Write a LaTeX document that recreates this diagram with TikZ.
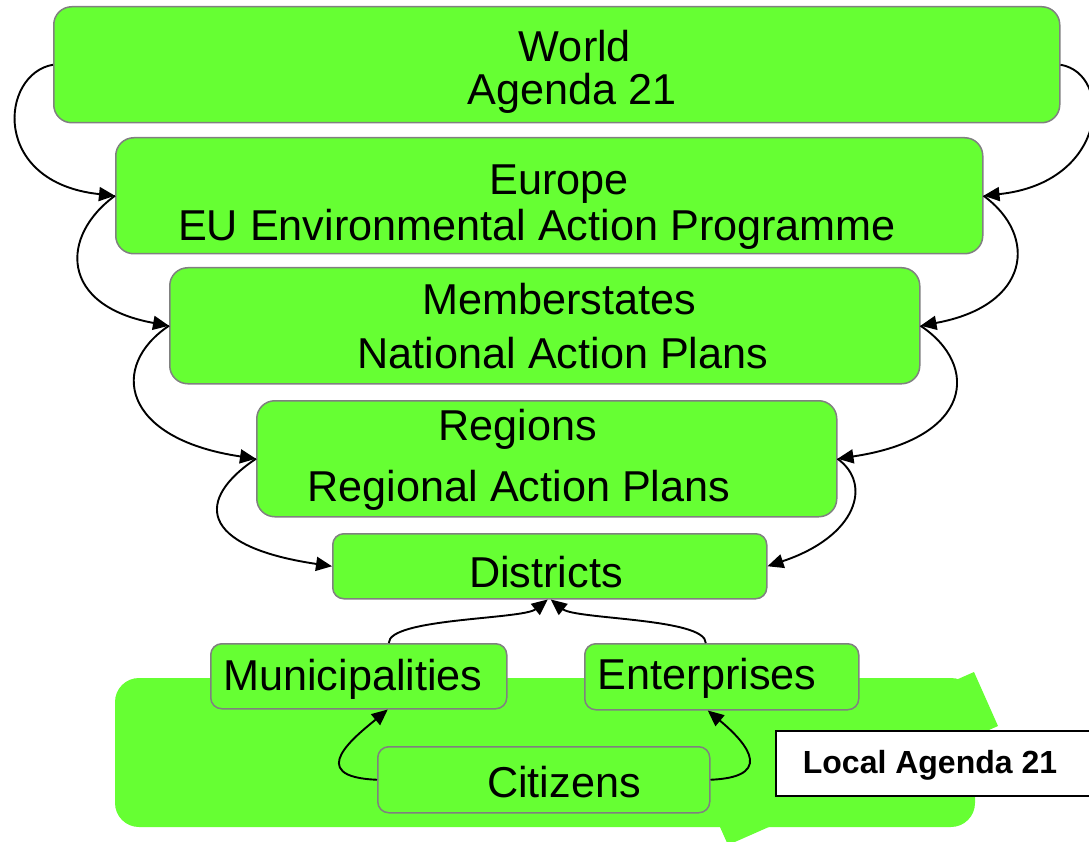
\documentclass[tikz,border=0pt]{standalone}
\usepackage{fontspec}
\setmainfont{Liberation Sans}
\usetikzlibrary{arrows.meta}
\definecolor{leaf}{RGB}{102,255,51}
\definecolor{rim}{RGB}{128,128,128}
\tikzset{
  box/.style={draw=rim, line width=1.5pt, fill=leaf, rounded corners=18pt,
    anchor=north west, inner sep=0pt},
  smallbox/.style={box, rounded corners=11pt},
  lbl/.style={anchor=base, inner sep=0pt, font=\fontsize{43.2}{48}\selectfont},
  conn/.style={line width=1.9pt, -{Triangle[length=16pt,width=14pt]}},
  tagbox/.style={draw=black, line width=2pt, fill=white, anchor=north west, inner sep=0pt},
}
\begin{document}
\begin{tikzpicture}[x=1pt, y=-1pt]
\useasboundingbox (0,0) rectangle (1089,842);

% green field behind the local level
\fill[leaf, rounded corners=24pt] (115,678) rectangle (975,827);
\fill[leaf] (704,791) -- (974,672) -- (998,726) -- (728,845) -- cycle;

% levels
\node[box, minimum width=1006pt, minimum height=116pt] (world) at (53,6) {};
\node[box, minimum width=867pt, minimum height=116pt] (europe) at (115,137) {};
\node[box, minimum width=750pt, minimum height=116pt] (members) at (169,267) {};
\node[box, minimum width=580pt, minimum height=116pt] (regions) at (256,400) {};
\node[smallbox, minimum width=434pt, minimum height=65pt] (districts) at (332,533) {};
\node[smallbox, minimum width=296pt, minimum height=65pt] (munis) at (210,643) {};
\node[smallbox, minimum width=274pt, minimum height=66pt] (ent) at (584,643) {};
\node[smallbox, minimum width=332pt, minimum height=66pt] (citizens) at (377,746) {};
\node[tagbox, minimum width=330pt, minimum height=65pt] (lag) at (775,730) {};

% labels
\node[lbl] (t1) at (575,62) {World};
\node[lbl] (t2) at (572,105) {Agenda 21};
\node[lbl] (t3) at (559,195) {Europe};
\node[lbl] (t4) at (537,241) {EU Environmental Action Programme};
\node[lbl] (t5) at (559,314) {Memberstates};
\node[lbl] (t6) at (563,368) {National Action Plans};
\node[lbl] (t7) at (518,440) {Regions};
\node[lbl] (t8) at (519,501) {Regional Action Plans};
\node[lbl] (t9) at (546,587) {Districts};
\node[lbl] (t10) at (353,690) {Municipalities};
\node[lbl] (t11) at (707,689) {Enterprises};
\node[lbl] (t12) at (564,797) {Citizens};
\node[anchor=base, inner sep=0pt, font=\fontsize{32}{38}\selectfont\bfseries] (t13) at (930,773) {Local Agenda 21};

% top-down links, left side
\draw[conn] (world.west) .. controls +(-53,9) and +(-125,-13) .. (europe.west);
\draw[conn] (europe.west) .. controls +(-55,40) and +(-110,-20) .. (members.west);
\draw[conn] (members.west) .. controls +(-60,40) and +(-135,-20) .. (regions.west);
\draw[conn] (regions.west) .. controls +(-60,40) and +(-135,-20) .. (districts.west);

% top-down links, right side
\draw[conn] (world.east) .. controls +(53,9) and +(125,-13) .. (europe.east);
\draw[conn] (europe.east) .. controls +(55,40) and +(110,-20) .. (members.east);
\draw[conn] (members.east) .. controls +(60,40) and +(135,-20) .. (regions.east);
\draw[conn] (regions.east) .. controls +(35,25) and +(90,-30) .. (districts.east);

% bottom-up links
\draw[conn] ([xshift=30pt]munis.north) .. controls +(0,-25) and +(-25,20) .. ([xshift=-2pt]districts.south);
\draw[conn] ([xshift=-16pt]ent.north) .. controls +(0,-25) and +(25,20) .. ([xshift=1pt]districts.south);
\draw[conn] (citizens.west) .. controls +(-75,-3) and +(-30,25) .. ([xshift=29pt]munis.south);
\draw[conn] (citizens.east) .. controls +(72,-3) and +(30,25) .. ([xshift=-14pt]ent.south);
\end{tikzpicture}
\end{document}
